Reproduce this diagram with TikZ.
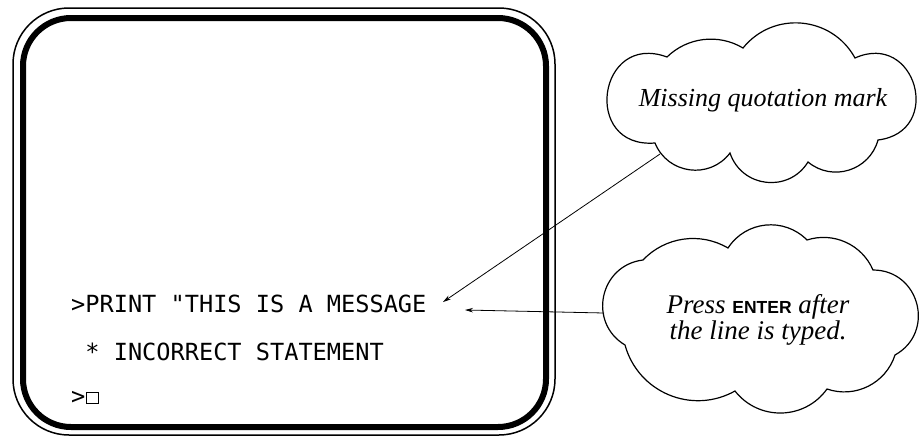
\documentclass[tikz,border=0pt]{standalone}
\usepackage{fontspec}
\setmainfont{Liberation Serif}
\newfontfamily\scrfont{DejaVu Sans Mono}
\newfontfamily\keyfont{Liberation Sans}
\usetikzlibrary{calc,arrows.meta}
\tikzset{
  cb/.style n args={2}{to path={.. controls ($(\tikztostart)!#2!#1:(\tikztotarget)$) and ($(\tikztotarget)!#2!-#1:(\tikztostart)$) .. (\tikztotarget)}},
  cloudline/.style={line width=1.2pt, line join=miter},
  scrtext/.style={anchor=base west, inner sep=0pt, font=\scrfont\fontsize{23.6}{26}\selectfont},
  note/.style={align=center, inner sep=0pt, font=\itshape\fontsize{26}{26}\selectfont},
  pointer/.style={line width=0.8pt, -{Stealth[length=8pt,width=4.5pt]}},
}
\begin{document}
\begin{tikzpicture}[x=1pt,y=-1pt]
\useasboundingbox (0,0) rectangle (919,437);
% screen
\draw[line width=1.5pt, rounded corners=56pt] (13,8) rectangle (555,435);
\draw[line width=6pt, rounded corners=48pt] (23,18) rectangle (546,427);
\node[scrtext] (l1) at (71,312) {>PRINT "THIS IS A MESSAGE};
\node[scrtext] (l2) at (85.2,360) {* INCORRECT STATEMENT};
\node[scrtext] (l3) at (71,404) {>};
\node[draw, line width=1.3pt, minimum width=12pt, minimum height=11pt, inner sep=0pt] (cursor) at (92.5,398) {};
% cloud 1
\coordinate (A) at (667,57);
\coordinate (B) at (743,48);
\coordinate (C) at (855,58);
\coordinate (D) at (878,140);
\coordinate (E) at (808,162);
\coordinate (F) at (730,153);
\coordinate (G) at (655,143);
\draw[cloudline] (A) to[cb={37.6}{0.372}] (B) to[cb={56.2}{0.428}] (C)
  to[cb={98.6}{0.784}] (D) to[cb={57.2}{0.432}] (E) to[cb={64.9}{0.468}] (F)
  to[cb={60.4}{0.446}] (G) to[cb={102.4}{0.85}] (A) -- cycle;
\node[note] (n1) at (763,100) {Missing quotation mark};
% cloud 2
\coordinate (V1) at (643,260);
\coordinate (V2) at (728,248);
\coordinate (V3) at (807,240);
\coordinate (V4) at (873,270);
\coordinate (V5) at (895,355);
\coordinate (V6) at (827,389);
\coordinate (V7) at (735,391);
\coordinate (V8) at (625,345);
\draw[cloudline] (V1) to[cb={38.5}{0.374}] (V2) to[cb={51.2}{0.41}] (V3)
  to[cb={42.3}{0.383}] (V4) to[cb={75.5}{0.532}] (V5) to[cb={45.6}{0.392}] (V6)
  to[cb={53.1}{0.417}] (V7) to[cb={51.9}{0.413}] (V8) to[cb={71.1}{0.503}] (V1) -- cycle;
\node[note, font=\itshape\fontsize{27}{26}\selectfont] (n2) at (758,320) {Press {\upshape\bfseries\keyfont\fontsize{17.5}{20}\selectfont ENTER} after\\the line is typed.};
% connectors
\coordinate (c1) at (660,154);
\coordinate (t1) at (443,302);
\coordinate (c2) at (604,313);
\coordinate (t2) at (465,310);
\draw[pointer] (c1) -- (t1);
\draw[pointer] (c2) -- (t2);
\end{tikzpicture}
\end{document}
